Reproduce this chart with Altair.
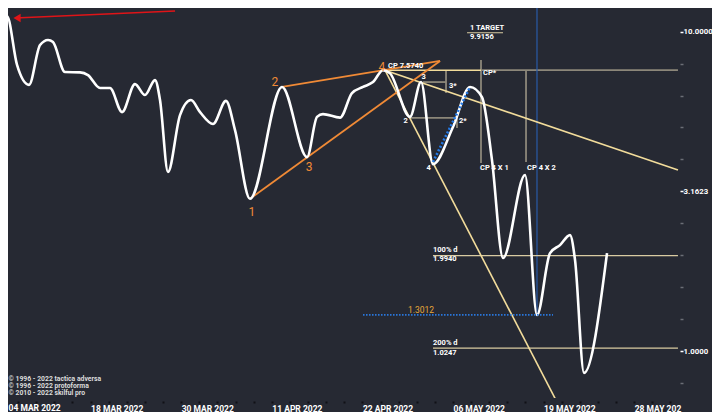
import altair as alt
import pandas as pd

# ---------------- main series (x = bar index, 10 units between date labels) -------------
x_idx = [0.11, 0.77, 1.88, 3.20, 4.42, 5.30, 5.85, 7.17, 8.83, 9.71, 11.04, 12.14, 13.47,
         14.90, 16.00, 17.11, 17.66, 18.54, 19.87, 21.08, 22.08, 23.51, 24.94, 25.94, 27.59,
         31.13, 33.89, 34.99, 35.65, 37.53, 38.85, 40.07, 41.17, 42.27, 43.05, 45.25, 46.47,
         47.79, 50.00, 51.88, 53.20, 54.30, 55.52, 57.95, 59.27, 60.71, 61.81, 62.91, 63.47,
         64.46, 67.00]
price = [4.02, 11.18, 7.86, 6.81, 9.07, 9.41, 9.27, 7.47, 7.45, 7.31, 6.66, 6.66, 5.60,
         6.85, 6.33, 7.05, 6.11, 3.64, 5.48, 6.11, 5.60, 5.14, 6.07, 4.92, 3.00,
         6.71, 4.05, 5.41, 5.52, 5.38, 6.42, 6.71, 6.95, 7.57, 7.40, 5.41, 6.95,
         3.85, 5.03, 6.71, 6.24, 3.97, 1.96, 3.56, 1.30, 2.03, 2.15, 2.31, 1.93,
         0.857, 2.03]

date_labels = ["04 MAR 2022", "18 MAR 2022", "30 MAR 2022", "11 APR 2022",
               "22 APR 2022", "06 MAY 2022", "19 MAY 2022", "28 MAY 202"]
x_ticks = list(range(0, 76, 2))
y_ticks = [0.7943, 1.0, 1.2589, 1.5849, 1.9953, 2.5119, 3.1623, 3.9811, 5.0119,
           6.3096, 7.9433, 10.0]
y_major = [1, 3.1623, 10]

# first date label is drawn as a text mark so it stays inside the page
first_label_x, first_label_y = [0.94], [0.668]

# ---------------- annotation segments (data units) -------------
orange_x1 = [27.59, 31.13]
orange_y1 = [3.00, 6.71]
orange_x2 = [48.57, 48.57]
orange_y2 = [8.09, 8.09]

yellow_x1 = [42.49, 42.49, 42.49]
yellow_y1 = [7.57, 7.57, 7.57]
yellow_x2 = [62.5, 74.83, 53.09]
yellow_y2 = [0.611, 3.69, 7.57]

level_x1 = [47.79, 47.79, 51.55]
level_y = [1.994, 1.0247, 9.9156]
level_x2 = [74.83, 74.83, 55.52]

gray_x1 = [53.09, 45.25, 50.44, 46.69, 49.23, 53.09, 58.06]
gray_y1 = [7.57, 5.37, 5.56, 6.95, 7.57, 8.15, 7.57]
gray_x2 = [74.83, 50.44, 50.44, 49.23, 49.23, 53.09, 58.06]
gray_y2 = [7.57, 5.37, 4.99, 6.95, 6.42, 3.88, 3.91]

blue_x1, blue_y1, blue_x2, blue_y2 = [59.27], [12.545], [59.27], [1.30]
bdot_x1, bdot_y1, bdot_x2, bdot_y2 = [47.79], [3.91], [51.88], [6.71]
hdot_x1, hdot_y1, hdot_x2, hdot_y2 = [40.07], [1.3012], [61.04], [1.3012]
red_x1, red_y1, red_x2, red_y2 = [19.32], [11.59], [1.66], [11.02]
arrow_x, arrow_y = [1.88], [11.02]

# ---------------- labels -------------
wl_x = [42.83, 51.88, 51.88, 46.52, 49.56, 44.54, 50.66, 47.07, 53.31, 52.98, 58.17,
        47.79, 47.79, 47.79, 47.79]
wl_y = [7.80, 10.25, 9.61, 7.21, 6.76, 5.25, 5.25, 3.75, 7.42, 3.75, 3.75,
        2.076, 1.946, 1.063, 0.989]
wl_text = ["CP 7.5740", "1 TARGET", "9.9156", "3", "3*", "2", "2*", "4", "CP*",
           "CP 4 X 1", "CP 4 X 2", "100%  d", "1.9940", "200%  d", "1.0247"]

ol_x = [27.81, 30.35, 34.11, 42.16]
ol_y = [2.73, 6.95, 3.77, 7.75]
ol_text = ["1", "2", "3", "4"]

gl_x, gl_y, gl_text = [45.03], [1.348], ["1.3012"]

cl_x = [0.94, 0.94, 0.94]
cl_y = [0.8205, 0.780, 0.742]
cl_text = ["© 1996 - 2022 tactica adversa", "© 1996 - 2022 protoforma",
           "© 2010 - 2022 skilful pro"]

FONT = "Roboto"
BG = "#262933"

x_scale = alt.Scale(domain=[0, 75.055], range=[-8, 672], nice=False, zero=False)
y_scale = alt.Scale(type="log", domain=[0.7155, 12.545], range=[390, -8], nice=False)

x_label_expr = ("datum.value % 10 == 0 && datum.value > 0 ? ["
                + ",".join("'%s'" % d for d in date_labels)
                + "][datum.value / 10] : ''")
major_test = "indexof([" + ",".join(str(v) for v in y_major) + "], datum.value) >= 0"

x_axis = alt.Axis(values=x_ticks, labelExpr=x_label_expr, labelAlign="left",
                  labelFlush=False, labelOverlap=False, tickSize=2, offset=3,
                  tickColor="#101116", tickWidth=2, domain=False, grid=False,
                  labelColor="#ffffff", labelFont=FONT, labelFontSize=8.5,
                  labelFontWeight="bold", labelPadding=1, title=None)
y_axis = alt.Axis(orient="right", values=y_ticks,
                  labelExpr=major_test + " ? format(datum.value, '.4f') : ''",
                  tickColor={"condition": {"test": major_test, "value": "#ffffff"},
                             "value": "#6b6e76"},
                  tickSize=3, tickWidth=1.5, domain=False, grid=False,
                  labelColor="#ffffff", labelFont=FONT, labelFontSize=7.8,
                  labelFontWeight="bold", labelPadding=0, labelOverlap=False,
                  title=None)


def X(f):
    return alt.X(f, type="quantitative", scale=x_scale, axis=x_axis)


def Y(f):
    return alt.Y(f, type="quantitative", scale=y_scale, axis=y_axis)


def segs(x1, y1, x2, y2, color, width, dash=None, clip=False, opacity=1.0):
    df = pd.DataFrame({"x": x1, "y": y1, "x2": x2, "y2": y2})
    kw = dict(color=color, strokeWidth=width, clip=clip, opacity=opacity)
    if dash is not None:
        kw["strokeDash"] = dash
    return alt.Chart(df).mark_rule(**kw).encode(
        x=X("x"), y=Y("y"), x2="x2", y2="y2")


def texts(xs, ys, ts, color, size, weight="bold", align="left"):
    df = pd.DataFrame({"x": xs, "y": ys, "t": ts})
    return alt.Chart(df).mark_text(color=color, fontSize=size, fontWeight=weight,
                                   font=FONT, align=align, baseline="middle").encode(
        x=X("x"), y=Y("y"), text="t")


main_df = pd.DataFrame({"x": x_idx, "price": price})
main_line = alt.Chart(main_df).mark_line(
    color="#ffffff", strokeWidth=2.6, interpolate="monotone").encode(
    x=X("x"), y=Y("price"))

layers = [
    segs(gray_x1, gray_y1, gray_x2, gray_y2, "#8c877a", 1.8),
    segs(blue_x1, blue_y1, blue_x2, blue_y2, "#2a5aa8", 1.2),
    segs(level_x1, level_y, level_x2, level_y, "#d9cba2", 1.1),
    segs(yellow_x1, yellow_y1, yellow_x2, yellow_y2, "#f2dc9b", 1.6, clip=True),
    segs(orange_x1, orange_y1, orange_x2, orange_y2, "#f08a36", 1.8),
    segs(red_x1, red_y1, red_x2, red_y2, "#e01418", 1.6),
    alt.Chart(pd.DataFrame({"x": arrow_x, "y": arrow_y})).mark_point(
        shape="triangle-left", filled=True, color="#e01418", size=70, opacity=1).encode(
        x=X("x"), y=Y("y")),
    main_line,
    segs(bdot_x1, bdot_y1, bdot_x2, bdot_y2, "#2379e6", 2.6, dash=[2, 2]),
    segs(hdot_x1, hdot_y1, hdot_x2, hdot_y2, "#2a78e0", 1.6, dash=[1.5, 1.5]),
    texts(wl_x, wl_y, wl_text, "#ffffff", 7.5),
    texts(ol_x, ol_y, ol_text, "#f08a36", 12, weight="normal", align="center"),
    texts(gl_x, gl_y, gl_text, "#e8a83a", 8.5, weight="normal"),
    texts(cl_x, cl_y, cl_text, "#dcdcdc", 6.8),
    texts(first_label_x, first_label_y, date_labels[:1], "#ffffff", 8.5),
]

chart = alt.layer(*layers).properties(
    width=672, height=390, background=BG,
    padding={"left": 0, "top": 0, "right": 32, "bottom": 14},
    autosize=alt.AutoSizeParams(type="none"),
).configure_view(stroke=None)

chart.save("out.html", embed_options={"renderer": "svg", "actions": False})
